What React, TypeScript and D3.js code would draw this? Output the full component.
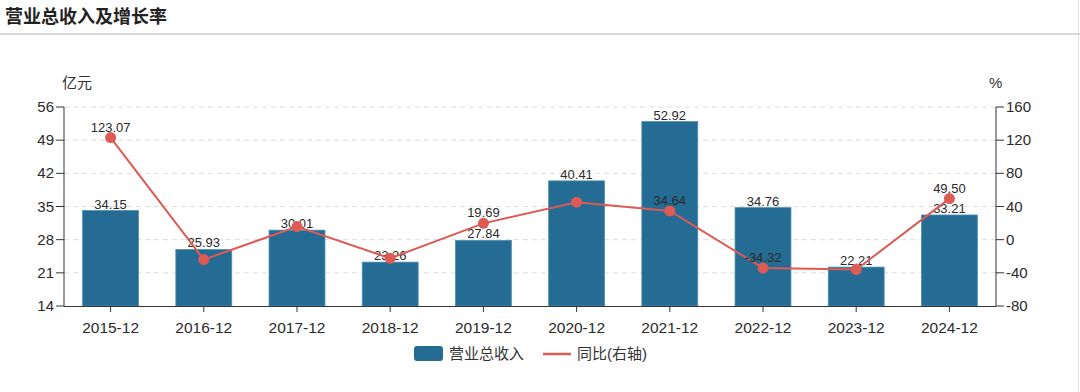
import React from "react";
import * as d3 from "d3";

const categories = ["2015-12","2016-12","2017-12","2018-12","2019-12","2020-12","2021-12","2022-12","2023-12","2024-12"];
const revenue = [34.15,25.93,30.01,23.26,27.84,40.41,52.92,34.76,22.21,33.21];
const growth = [123.07,-24.07,15.73,-22.49,19.69,45.15,34.64,-34.32,-36.1,49.5];
const growthLabels = ["123.07",null,null,null,"19.69",null,"34.64","-34.32",null,"49.50"];
const leftTicks = [14,21,28,35,42,49,56];
const rightTicks = [-80,-40,0,40,80,120,160];

const W = 1080, H = 392;
const FONT = "'Liberation Sans', Arial, 'Noto Sans CJK SC', sans-serif";

export default function App() {
  const left = 64, right = 996, top = 107, bottom = 306;
  const x = d3.scaleBand().domain(categories).range([left, right]).paddingInner(0.4).paddingOuter(0.2);
  const xc = d3.scalePoint().domain(categories).range([left, right]).padding(0.5);
  const yL = d3.scaleLinear().domain([14, 56]).range([bottom, top]);
  const yR = d3.scaleLinear().domain([-80, 160]).range([bottom, top]);
  const line = d3.line<number>().x((_, i) => xc(categories[i])!).y(d => yR(d));
  const barColor = "#246c94";
  const red = "#dd5a55";
  const txt = "#2a2a2a";
  return (
    <svg width={W} height={H} style={{ position: "absolute", left: 0, top: 0, background: "#fff" }} fontFamily={FONT}>
      <text x={5} y={23} fontSize={18} fontWeight="bold" fill="#222">营业总收入及增长率</text>
      <line x1={0} x2={W} y1={34} y2={34} stroke="#d8d8d8" strokeWidth={2} />
      <line x1={1078.5} x2={1078.5} y1={0} y2={H} stroke="#e2e2e2" strokeWidth={1} />
      <text x={62} y={88} fontSize={15} fill="#333">亿元</text>
      <text x={989} y={88} fontSize={15} fill="#333">%</text>
      {leftTicks.slice(1).map(t => (
        <line key={t} x1={left} x2={right} y1={yL(t)} y2={yL(t)} stroke="#ddd" strokeDasharray="5,4" />
      ))}
      {categories.map((c, i) => (
        <rect key={c} x={x(c)} y={yL(revenue[i])} width={x.bandwidth()} height={bottom - yL(revenue[i])} fill={barColor} stroke="#4f8fb3" strokeWidth={0.8} />
      ))}
      {categories.map((c, i) => (
        <text key={c} x={xc(c)} y={yL(revenue[i]) - 2} fontSize={13} textAnchor="middle" fill={txt}>{revenue[i].toFixed(2)}</text>
      ))}
      <path d={line(growth)!} fill="none" stroke={red} strokeWidth={2} />
      {categories.map((c, i) => (
        <circle key={c} cx={xc(c)} cy={yR(growth[i])} r={5.5} fill={red} />
      ))}
      {categories.map((c, i) => growthLabels[i] ? (
        <text key={c} x={xc(c)} y={yR(growth[i]) - 6} fontSize={13} textAnchor="middle" fill={txt}>{growthLabels[i]}</text>
      ) : null)}
      {/* left axis */}
      <line x1={left} x2={left} y1={top} y2={bottom} stroke="#333" />
      {leftTicks.map(t => (
        <g key={t}>
          <line x1={left - 8} x2={left} y1={yL(t)} y2={yL(t)} stroke="#333" />
          <text x={left - 10} y={yL(t) + 5} fontSize={15} textAnchor="end" fill={txt}>{t}</text>
        </g>
      ))}
      {/* right axis */}
      <line x1={right} x2={right} y1={top} y2={bottom} stroke="#333" />
      {rightTicks.map(t => (
        <g key={t}>
          <line x1={right} x2={right + 8} y1={yR(t)} y2={yR(t)} stroke="#333" />
          <text x={right + 10} y={yR(t) + 5} fontSize={15} textAnchor="start" fill={txt}>{t}</text>
        </g>
      ))}
      {/* x axis */}
      <line x1={left} x2={right} y1={bottom + 0.5} y2={bottom + 0.5} stroke="#333" />
      {categories.map(c => (
        <g key={c}>
          <line x1={xc(c)} x2={xc(c)} y1={bottom} y2={bottom + 6} stroke="#333" />
          <text x={xc(c)} y={bottom + 27} fontSize={15.5} textAnchor="middle" fill={txt}>{c}</text>
        </g>
      ))}
      {/* legend */}
      <rect x={414} y={346} width={29} height={15} rx={3} fill={barColor} />
      <text x={449} y={359} fontSize={15} fill="#333">营业总收入</text>
      <line x1={543} x2={571} y1={354} y2={354} stroke={red} strokeWidth={2.5} />
      <text x={577} y={359} fontSize={15} fill="#333">同比(右轴)</text>
    </svg>
  );
}
